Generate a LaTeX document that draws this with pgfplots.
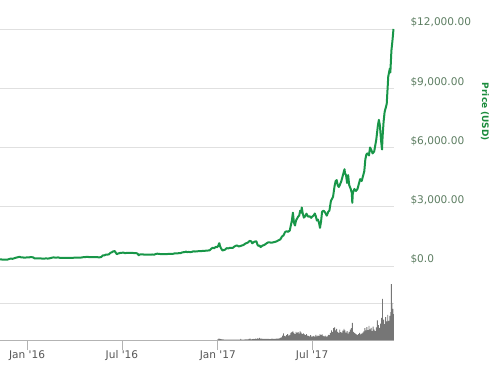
\documentclass[border=0pt]{standalone}
\usepackage{pgfplots}
\pgfplotsset{compat=1.18}
\usepackage{fontspec}
\setmainfont{DejaVu Sans}[Ligatures=TeXOff]
\definecolor{pline}{RGB}{24,150,72}
\definecolor{plab}{RGB}{92,125,97}
\definecolor{ptitle}{RGB}{26,140,60}
\definecolor{vbar}{RGB}{118,118,118}
\definecolor{gridc}{RGB}{224,224,224}
\definecolor{xlab}{RGB}{85,85,85}
\begin{document}
\begin{tikzpicture}
\useasboundingbox (0bp,0bp) rectangle (503bp,373bp);
% ---------- price panel ----------
\begin{axis}[
  at={(0bp,107bp)}, anchor=south west,
  width=394bp, height=237bp, scale only axis,
  xmin=-52, xmax=704, ymin=0, ymax=12000,
  clip=false, scaled y ticks=false,
  axis line style={draw=none},
  xtick=\empty,
  ytick={0,3000,6000,9000,12000},
  yticklabels={{\$0.0},{\$3,000.00},{\$6,000.00},{\$9,000.00},{\$12,000.00}},
  yticklabel pos=right,
  ymajorgrids, major grid style={color=gridc, line width=0.8bp},
  tick style={draw=none},
  yticklabel style={anchor=base west, xshift=13bp, yshift=3bp, text=plab, font=\fontsize{10.6}{12}\selectfont},
  ylabel={\textbf{Price (USD)}},
  ylabel style={at={(rel axis cs:1.231,0.65)}, rotate=180, anchor=center, text=ptitle, font=\fontsize{9}{11}\selectfont},
]
\addplot[pline, line width=2bp, line join=round] coordinates {
(-52,336) (-49,330) (-46,320) (-43,326) (-40,323) (-37,328) (-34,358) (-31,377) (-28,362) (-25,389)
(-22,417) (-19,434) (-16,456) (-14,463) (-12,440) (-9,438) (-6,422) (-3,428) (0,434) (3,431)
(6,448) (9,449) (12,432) (14,391) (16,380) (18,385) (21,387) (24,392) (27,380) (30,378)
(33,372) (36,386) (39,378) (42,381) (45,402) (48,421) (51,437) (54,422) (57,429) (60,433)
(63,410) (66,414) (69,416) (72,412) (75,417) (78,415) (81,416) (84,412) (87,416) (90,418)
(93,421) (96,420) (99,424) (102,427) (105,432) (108,448) (111,449) (114,461) (117,459) (120,448)
(124,449) (127,455) (130,455) (133,454) (136,443) (139,440) (142,452) (145,532) (148,536) (151,573)
(154,576) (157,590) (160,667) (163,700) (165,740) (167,748) (168,760) (170,680) (172,600) (174,625)
(176,640) (179,668) (182,670) (185,680) (188,645) (191,667) (194,660) (197,665) (200,660) (203,659)
(206,656) (209,655) (212,625) (213,590) (214,545) (216,580) (219,591) (222,589) (225,572) (228,580)
(231,577) (234,578) (237,578) (240,583) (244,574) (247,610) (250,625) (253,608) (256,607) (259,604)
(262,601) (265,607) (268,605) (271,610) (274,613) (277,613) (280,617) (283,638) (286,637) (289,641)
(292,657) (295,655) (297,682) (300,698) (303,710) (305,730) (307,703) (310,712) (313,705) (316,711)
(319,745) (322,732) (325,738) (328,748) (331,753) (335,757) (338,770) (341,768) (344,780) (347,784)
(350,790) (353,865) (356,925) (359,900) (362,965) (365,960)
(366,998) (367,1020) (368,1130) (369,1150) (370,1015) (372,900) (375,780) (377,805) (380,830) (383,905)
(386,890) (389,920) (392,918) (395,920) (397,970) (400,1020) (403,1040) (406,990) (409,1008) (412,1040)
(415,1060) (418,1120) (421,1160) (424,1190) (427,1270) (430,1250) (432,1150) (434,1190) (436,1230) (438,1240)
(440,1250) (442,1075) (444,1020) (446,1040) (448,960) (450,1000) (452,1040) (454,1050) (456,1080) (459,1140)
(462,1190) (465,1200) (468,1180) (471,1190) (474,1210) (477,1230) (480,1265) (483,1310) (486,1350) (489,1490)
(492,1550) (495,1720) (498,1760) (501,1730) (504,1800) (506,2050) (508,2290) (510,2700) (512,2200) (514,2050)
(516,2300) (518,2400) (520,2500) (522,2550) (524,2800) (526,2700) (527,2960) (529,2650) (531,2450) (533,2500)
(536,2650) (539,2500) (542,2520) (545,2440) (547,2500) (550,2560) (552,2660) (554,2520) (556,2300) (558,2350)
(560,2200) (562,1930) (564,2250) (566,2750) (569,2800) (572,2700) (575,2550) (578,2750) (580,2800) (583,3300)
(585,3400) (587,3500) (590,4050) (592,4300) (594,4350) (596,4100) (598,4000) (600,4100) (603,4300) (606,4600)
(609,4900) (610,4700) (612,4600) (614,4200) (616,4600) (618,4100) (621,3900) (623,3700) (624,3200) (625,3700)
(628,3900) (631,3800) (634,3900) (637,4200) (639,4400) (642,4300) (645,4600) (647,4800) (649,5400) (651,5650)
(653,5700) (656,5600) (658,6000) (660,5900) (663,5700) (666,5800) (668,6100) (670,6400) (673,7100) (675,7400)
(677,7100) (679,6400) (681,5900) (682,6500) (684,7300) (686,7800) (688,8000) (690,8200) (693,9600) (696,10000)
(697,9800) (699,10900) (701,11400) (703,12000)
};
\end{axis}
% ---------- volume panel ----------
\begin{axis}[
  at={(0bp,33bp)}, anchor=south west,
  width=394bp, height=59.2bp, scale only axis,
  xmin=-52, xmax=704, ymin=0, ymax=16,
  clip=false,
  axis x line*=bottom, axis y line*=left,
  x axis line style={color=gridc!80!black, line width=0.8bp, -},
  y axis line style={draw=none},
  xtick={0,182,366,547},
  xticklabels={Jan '16,Jul '16,Jan '17,Jul '17},
  tick align=outside, major tick length=10bp,
  xtick style={color=gridc!80!black, line width=0.8bp},
  xticklabel style={text=xlab, font=\fontsize{10.6}{12}\selectfont, yshift=3bp},
  ytick={10}, yticklabels={},
  ymajorgrids, major grid style={color=gridc, line width=0.8bp},
  ytick style={draw=none},
]
\addplot[ybar, bar width=1.7, fill=vbar, draw=none] coordinates {
(366,0.15) (368,0.35) (370,0.3) (372,0.25) (374,0.15) (376,0.2) (378,0.1) (380,0.12) (382,0.1) (384,0.1)
(386,0.1) (388,0.08) (390,0.1) (392,0.1) (394,0.1) (396,0.1) (398,0.12) (400,0.12) (402,0.1) (404,0.1)
(406,0.1) (408,0.12) (410,0.3) (412,0.12) (414,0.1) (416,0.12) (418,0.15) (420,0.2) (422,0.15) (424,0.2)
(426,0.3) (428,0.35) (430,0.2) (432,0.25) (434,0.3) (436,0.25) (438,0.4) (440,0.3) (442,0.45) (444,0.35)
(446,0.6) (448,0.4) (450,0.35) (452,0.3) (454,0.3) (456,0.3) (458,0.3) (460,0.3) (462,0.3) (464,0.3)
(466,0.25) (468,0.3) (470,0.35) (472,0.3) (474,0.3) (476,0.3) (478,0.35) (480,0.4) (482,0.4) (484,0.45)
(486,0.6) (488,0.7) (490,1.2) (492,1.8) (494,1.1) (496,1.0) (498,1.3) (500,1.6) (502,1.2) (504,1.4)
(506,1.9) (508,2.1) (510,2.3) (512,1.9) (514,1.6) (516,2.2) (518,1.9) (520,2.1) (522,1.7) (524,2.3)
(526,2.0) (528,1.6) (530,1.8) (532,1.5) (534,1.3) (536,1.6) (538,1.2) (540,1.1) (542,1.0) (544,1.3)
(546,0.9) (548,1.0) (550,1.1) (552,0.9) (554,1.4) (556,1.0) (558,1.2) (560,1.1) (562,1.6) (564,1.3)
(566,1.5) (568,1.1) (570,1.0) (572,1.2) (574,0.9) (576,1.0) (578,1.4) (580,1.3) (582,1.9) (584,2.6)
(586,2.2) (588,3.2) (590,3.4) (592,2.6) (594,3.0) (596,2.2) (598,1.9) (600,2.8) (602,2.1) (604,1.9)
(606,2.5) (608,3.0) (610,2.6) (612,2.0) (614,2.4) (616,1.7) (618,2.2) (620,2.8) (622,3.2) (624,4.6)
(626,2.2) (628,1.9) (630,1.7) (632,1.5) (634,1.4) (636,1.6) (638,1.9) (640,1.5) (642,1.7) (644,2.0)
(646,2.3) (648,3.2) (650,2.6) (652,3.5) (654,2.7) (656,3.8) (658,2.9) (660,3.3) (662,2.4) (664,3.6)
(666,2.8) (668,2.4) (670,3.4) (672,5.3) (674,4.0) (676,3.3) (678,4.4) (680,6.0) (682,11.1) (684,5.5)
(686,4.3) (688,6.2) (690,5.0) (692,6.8) (694,5.2) (696,6.5) (698,7.5) (699,15.1) (700,10.0) (702,8.4)
(703,7.0)
};
\end{axis}
\end{tikzpicture}
\end{document}
